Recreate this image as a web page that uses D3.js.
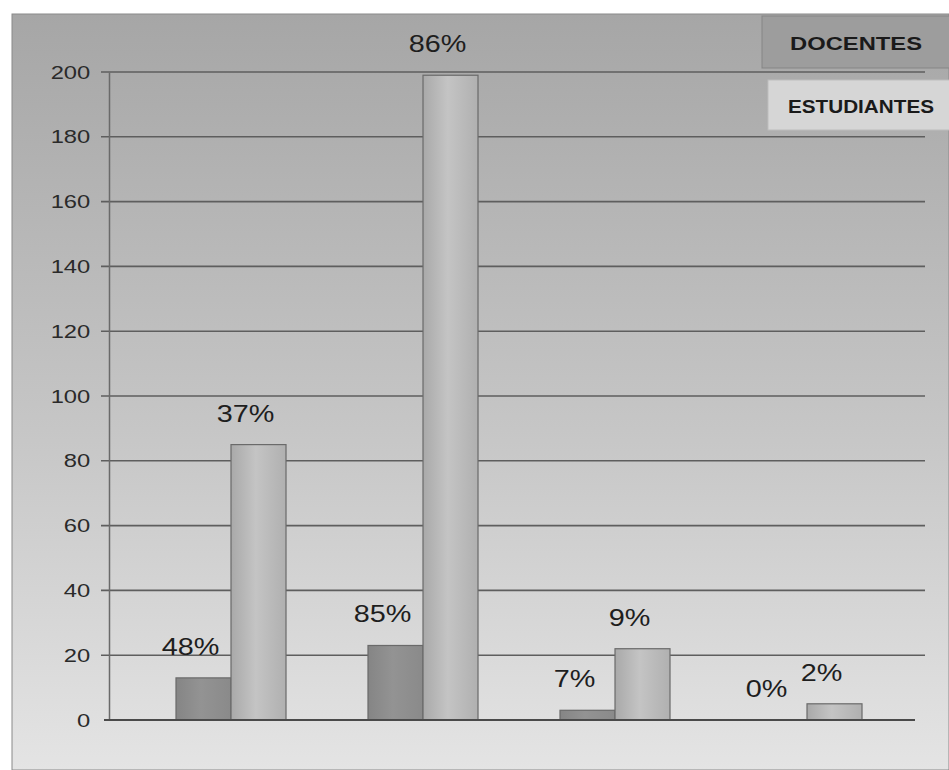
<html>
  <head>
    <meta charset="utf-8" />
    <script src="https://cdnjs.cloudflare.com/ajax/libs/d3/7.6.1/d3.min.js"></script>
    <style>
      body { margin: 0; background: #ffffff; }
      svg { display: block; }
      .tick text { font-family: "Liberation Sans", Arial, sans-serif; font-size: 19px; fill: #2a2a2a; }
      .pct { font-family: "Liberation Sans", Arial, sans-serif; font-size: 24px; fill: #1e1e1e; }
      .legend text { font-family: "Liberation Sans", Arial, sans-serif; font-size: 18px; font-weight: bold; fill: #1a1a1a; }
    </style>
  </head>
  <body>
    <svg width="949" height="770"></svg>
  </body>
  <script>
    // categories have no visible labels in the source
    var groups = ["g1", "g2", "g3", "g4"];
    var series = ["DOCENTES", "ESTUDIANTES"];
    var docentes = [13, 23, 3, 0];
    var estudiantes = [85, 199, 22, 5];
    var docentesPct = ["48%", "85%", "7%", "0%"];
    var estudiantesPct = ["37%", "86%", "9%", "2%"];
    var yTicks = [0, 20, 40, 60, 80, 100, 120, 140, 160, 180, 200];

    var rows = groups.map(function (g, i) {
      return [
        { g: g, s: series[0], v: docentes[i], pct: docentesPct[i] },
        { g: g, s: series[1], v: estudiantes[i], pct: estudiantesPct[i] },
      ];
    });

    var svg = d3.select("svg");
    var defs = svg.append("defs");

    var bg = defs.append("linearGradient").attr("id", "bg")
      .attr("x1", 0).attr("y1", 0).attr("x2", 0).attr("y2", 1);
    bg.append("stop").attr("offset", "0%").attr("stop-color", "#a6a6a6");
    bg.append("stop").attr("offset", "55%").attr("stop-color", "#c6c6c6");
    bg.append("stop").attr("offset", "100%").attr("stop-color", "#e4e4e4");

    function barGrad(id, a, b, c) {
      var g = defs.append("linearGradient").attr("id", id)
        .attr("x1", 0).attr("y1", 0).attr("x2", 1).attr("y2", 0);
      g.append("stop").attr("offset", "0%").attr("stop-color", a);
      g.append("stop").attr("offset", "45%").attr("stop-color", b);
      g.append("stop").attr("offset", "100%").attr("stop-color", c);
    }
    barGrad("gDoc", "#858585", "#939393", "#8a8a8a");
    barGrad("gEst", "#a9a9a9", "#c4c4c4", "#b0b0b0");
    var fills = { DOCENTES: "url(#gDoc)", ESTUDIANTES: "url(#gEst)" };

    // chart background
    svg.append("rect").attr("x", 12).attr("y", 14).attr("width", 937).attr("height", 756)
      .attr("fill", "url(#bg)").attr("stroke", "#8a8a8a");

    var y = d3.scaleLinear().domain([0, 200]).range([720, 72]);
    var x = d3.scaleBand().domain(groups).range([135, 903])
      .paddingInner(0.427).paddingOuter(0.2135);
    var xs = d3.scaleBand().domain(series).range([0, x.bandwidth()]);

    // gridlines
    svg.append("g").selectAll("line").data(yTicks.slice(1)).enter().append("line")
      .attr("x1", 101).attr("x2", 925)
      .attr("y1", function (d) { return y(d); }).attr("y2", function (d) { return y(d); })
      .attr("stroke", "#5e5e5e").attr("stroke-width", 1.6);

    var yAxis = d3.axisLeft(y).tickValues(yTicks).tickSize(0).tickPadding(15);
    var yG = svg.append("g").attr("transform", "translate(109,0)").call(yAxis);
    yG.select("path.domain").attr("stroke", "#6a6a6a").attr("stroke-width", 1.5);
    // the scan is stretched a little horizontally
    yG.selectAll(".tick text").attr("transform", "scale(1.25,1)");

    // bars
    var grp = svg.append("g").selectAll("g").data(rows).enter().append("g")
      .attr("transform", function (d) { return "translate(" + x(d[0].g) + ",0)"; });

    grp.selectAll("rect").data(function (d) { return d; }).enter().append("rect")
      .attr("x", function (d) { return xs(d.s); })
      .attr("width", xs.bandwidth())
      .attr("y", function (d) { return y(d.v); })
      .attr("height", function (d) { return y(0) - y(d.v); })
      .attr("fill", function (d) { return fills[d.s]; })
      .attr("stroke", "#6a6a6a").attr("stroke-width", 1.2);

    grp.selectAll("text").data(function (d) { return d; }).enter().append("text")
      .attr("class", "pct")
      .attr("text-anchor", "middle")
      .attr("transform", function (d) {
        return "translate(" + (xs(d.s) + xs.bandwidth() / 2 - 13) + "," + (y(d.v) - 23) + ") scale(1.2,1)";
      })
      .text(function (d) { return d.pct; });

    // baseline
    svg.append("line").attr("x1", 104).attr("x2", 915)
      .attr("y1", y(0)).attr("y2", y(0))
      .attr("stroke", "#4a4a4a").attr("stroke-width", 1.8);

    // legend
    var leg = svg.append("g").attr("class", "legend");
    leg.append("rect").attr("x", 762).attr("y", 16).attr("width", 190).attr("height", 52)
      .attr("fill", "#9d9d9d").attr("stroke", "#858585");
    leg.append("rect").attr("x", 768).attr("y", 80).attr("width", 185).attr("height", 50)
      .attr("fill", "#d6d6d6").attr("stroke", "#bdbdbd");
    leg.selectAll("text").data(series).enter().append("text")
      .attr("x", function (d, i) { return i === 0 ? 790 : 788; })
      .attr("y", function (d, i) { return i === 0 ? 50 : 113; })
      .attr("textLength", function (d, i) { return i === 0 ? 132 : 146; })
      .attr("lengthAdjust", "spacingAndGlyphs")
      .text(function (d) { return d; });
  </script>
</html>
